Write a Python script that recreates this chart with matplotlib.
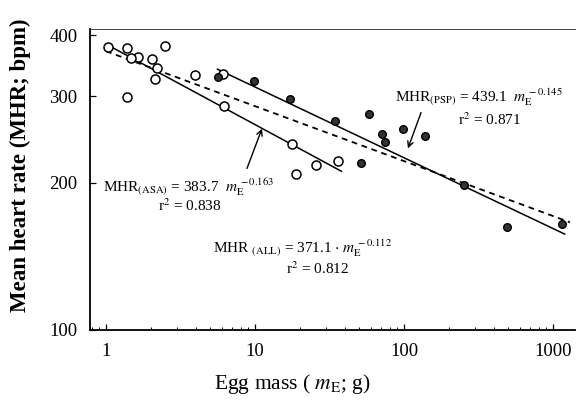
import matplotlib
matplotlib.use("Agg")
import matplotlib.pyplot as plt
from matplotlib.ticker import LogLocator, NullFormatter, FixedLocator, FixedFormatter

plt.rcParams['font.family'] = ['Liberation Serif', 'DejaVu Serif']
plt.rcParams['mathtext.fontset'] = 'stix'

# Open circles (ASA)
asa_x = [1.03, 1.38, 1.65, 1.47, 2.02, 2.47, 2.21, 2.13, 1.39, 3.98, 6.09, 6.16, 17.7, 25.5, 18.8, 35.9]
asa_y = [378, 376, 362, 359, 358, 380, 343, 326, 299, 332, 334, 287, 240, 217, 208, 221]
# Filled circles (PSP)
psp_x = [5.64, 9.89, 17.1, 34.6, 58.5, 98.6, 139, 71.1, 74.8, 51.5, 251, 488, 1152]
psp_y = [328, 323, 297, 267, 276, 258, 249, 251, 242, 219, 198, 162, 165]

# Regression line end points
asa_line_x = [1.0, 38.0]
asa_line_y = [383.7, 211.0]
psp_line_x = [5.6, 1200.0]
psp_line_y = [341.0, 157.0]
all_line_x = [1.0, 1300.0]
all_line_y = [371.1, 166.0]

x_ticks = [1, 10, 100, 1000]
x_labels = ['1', '10', '100', '1000']
y_ticks = [100, 200, 300, 400]
y_labels = ['100', '200', '300', '400']

W, H = 586, 407
fig = plt.figure(figsize=(W / 100, H / 100), dpi=100)
ax = fig.add_axes([90 / W, (H - 330) / H, 485 / W, (330 - 29) / H])
ax.set_xscale('log')
ax.set_yscale('log')
ax.set_xlim(0.78, 1406)
ax.set_ylim(100, 412)

ax.plot(all_line_x, all_line_y, color='black', lw=1.3, ls=(0, (3.2, 2.6)), zorder=2)
ax.plot(asa_line_x, asa_line_y, color='black', lw=1.1, zorder=2)
ax.plot(psp_line_x, psp_line_y, color='black', lw=1.1, zorder=2)

ax.plot(asa_x, asa_y, ls='none', marker='o', ms=6.5, mfc='white', mec='black', mew=1.1, zorder=3)
ax.plot(psp_x, psp_y, ls='none', marker='o', ms=5.5, mfc='#333333', mec='black', mew=1.0, zorder=3)

ax.xaxis.set_major_locator(FixedLocator(x_ticks))
ax.xaxis.set_major_formatter(FixedFormatter(x_labels))
ax.xaxis.set_minor_locator(LogLocator(base=10, subs=range(2, 10)))
ax.xaxis.set_minor_formatter(NullFormatter())
ax.yaxis.set_major_locator(FixedLocator(y_ticks))
ax.yaxis.set_major_formatter(FixedFormatter(y_labels))
ax.yaxis.set_minor_locator(LogLocator(base=10, subs=range(2, 10)))
ax.yaxis.set_minor_formatter(NullFormatter())

ax.tick_params(which='major', direction='in', length=4, width=0.9, labelsize=13.5, pad=9)
ax.tick_params(which='minor', direction='in', length=2.5, width=0.7)
ax.tick_params(axis='x', which='both', top=False)
ax.tick_params(axis='y', which='both', right=False)

ax.spines['right'].set_visible(False)
ax.spines['top'].set_linewidth(0.7)
ax.spines['top'].set_color('#444444')
ax.spines['left'].set_linewidth(1.3)
ax.spines['bottom'].set_linewidth(1.3)

ax.set_ylabel('Mean heart rate (MHR; bpm)', fontsize=16.5, fontweight='bold')
ax.yaxis.set_label_coords(-0.122, (330 - 165) / 301)
ax.set_xlabel(r'Egg mass ( $m_{\rm E}$; g)', fontsize=15.5)
ax.xaxis.set_label_coords((292 - 90) / 485, -0.14)


def ftext(x, y, s, **kw):
    fig.text(x / W, 1 - y / H, s, **kw)


fs = 11
ftext(103, 187, r'MHR$_{\rm (ASA)}$ = 383.7  $m_{\rm E}^{\,-0.163}$', fontsize=fs, va='center')
ftext(158, 206, r'r$^2$ = 0.838', fontsize=fs, va='center')
ftext(213, 248, r'MHR $_{\rm (ALL)}$ = 371.1 $\cdot$ $m_{\rm E}^{\,-0.112}$', fontsize=fs, va='center')
ftext(286, 269, r'r$^2$ = 0.812', fontsize=fs, va='center')
ftext(395, 97, r'MHR$_{\rm (PSP)}$ = 439.1  $m_{\rm E}^{\,-0.145}$', fontsize=fs, va='center')
ftext(458, 120, r'r$^2$ = 0.871', fontsize=fs, va='center')

ax.annotate('', xy=(263 / W, 1 - 126 / H), xycoords='figure fraction',
            xytext=(246 / W, 1 - 171 / H), textcoords='figure fraction',
            arrowprops=dict(arrowstyle='->', color='black', lw=1.0))
ax.annotate('', xy=(407 / W, 1 - 151 / H), xycoords='figure fraction',
            xytext=(422 / W, 1 - 110 / H), textcoords='figure fraction',
            arrowprops=dict(arrowstyle='->', color='black', lw=1.0))

fig.savefig('out.png', dpi=100)
